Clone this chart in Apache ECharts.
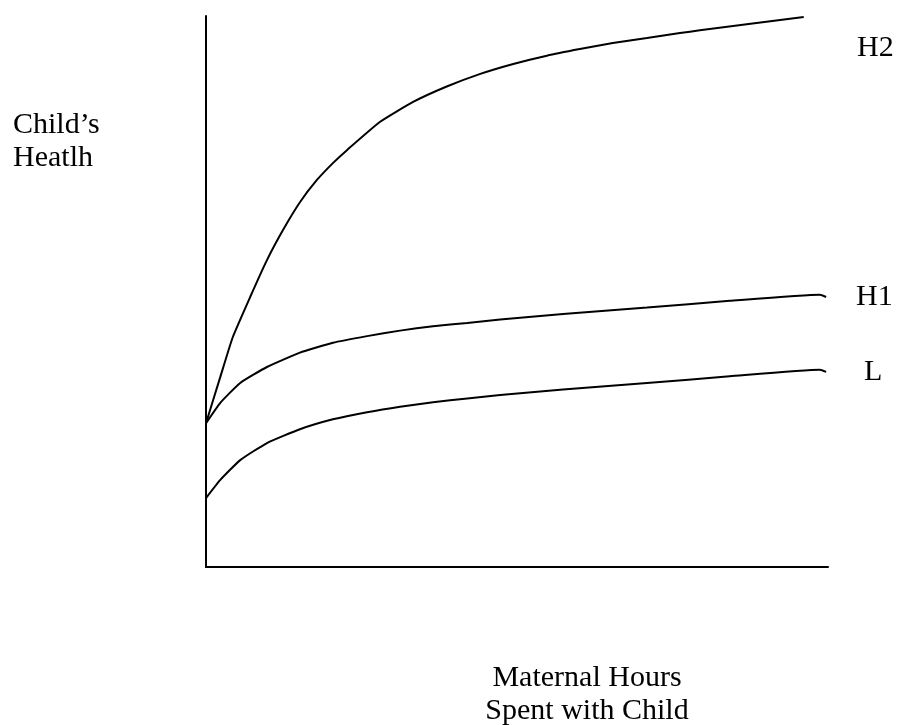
<!DOCTYPE html>
<html>
<head>
<meta charset="utf-8">
<script src="https://cdn.jsdelivr.net/npm/echarts@6/dist/echarts.min.js"></script>
<style>
    html, body { margin: 0; padding: 0; background: #fff; }
    #chart { width: 901px; height: 725px; }
</style>
</head>
<body>
<div id="chart"></div>
<script>
// x = maternal hours (0-100), y = child's health (0-100)
const h2Points = [
    [0, 26.1], [2.3, 34.5], [4.3, 41.7], [7.1, 49.0], [9.8, 55.7], [12.4, 61.2],
    [15.1, 66.2], [17.8, 70.2], [20.4, 73.3], [22.7, 75.7], [28.0, 80.8],
    [33.3, 84.4], [38.7, 87.2], [44.1, 89.5], [49.4, 91.3], [54.8, 92.8],
    [60.1, 94.0], [65.4, 95.1], [70.9, 96.0], [76.2, 96.9], [79.4, 97.4], [96.1, 99.8]
];
const h1Points = [
    [0, 26.1], [2.3, 29.8], [5.5, 33.4], [9.8, 36.3], [15.1, 38.9], [20.4, 40.7],
    [25.9, 41.9], [31.2, 42.9], [36.5, 43.7], [42.0, 44.3], [47.3, 44.9],
    [57.4, 45.9], [70.9, 47.1], [84.2, 48.3], [98.7, 49.4], [99.7, 49.0]
];
const lPoints = [
    [0, 12.5], [2.3, 15.8], [5.5, 19.4], [9.8, 22.5], [15.1, 25.0], [20.4, 26.8],
    [25.9, 28.1], [31.2, 29.1], [36.5, 29.9], [42.0, 30.6], [47.3, 31.2],
    [57.4, 32.2], [70.9, 33.4], [84.2, 34.6], [98.7, 35.8], [99.7, 35.4]
];
const seriesNames = ['H2', 'H1', 'L'];
const yTitle = "Child\u2019s\nHeatlh";
const xTitle = 'Maternal Hours\nSpent with Child';

const chart = echarts.init(document.getElementById('chart'));
const serif = '"Liberation Serif", "Times New Roman", serif';
const lineStyle = { color: '#000', width: 2 };

function curve(name, data) {
    return {
        name: name,
        type: 'line',
        data: data,
        smooth: 0.15,
        symbol: 'none',
        lineStyle: lineStyle,
        silent: true
    };
}

function label(text, x, y, align) {
    return {
        type: 'text',
        x: x,
        y: y,
        style: {
            text: text,
            font: '30px ' + serif,
            fill: '#000',
            align: align || 'left',
            verticalAlign: 'middle',
            lineHeight: 33
        }
    };
}

chart.setOption({
    backgroundColor: '#fff',
    animation: false,
    grid: { left: 206, right: 73, top: 16, bottom: 158 },
    xAxis: {
        type: 'value', min: 0, max: 100,
        axisLine: { show: true, lineStyle: { color: '#000', width: 2 } },
        axisTick: { show: false }, axisLabel: { show: false }, splitLine: { show: false }
    },
    yAxis: {
        type: 'value', min: 0, max: 100,
        axisLine: { show: true, lineStyle: { color: '#000', width: 2 } },
        axisTick: { show: false }, axisLabel: { show: false }, splitLine: { show: false }
    },
    series: [
        curve(seriesNames[0], h2Points),
        curve(seriesNames[1], h1Points),
        curve(seriesNames[2], lPoints)
    ],
    graphic: [
        label(seriesNames[0], 857, 48),
        label(seriesNames[1], 856, 297),
        label(seriesNames[2], 864, 372),
        label(yTitle, 13, 142),
        label(xTitle, 587, 695, 'center')
    ]
});
</script>
</body>
</html>
